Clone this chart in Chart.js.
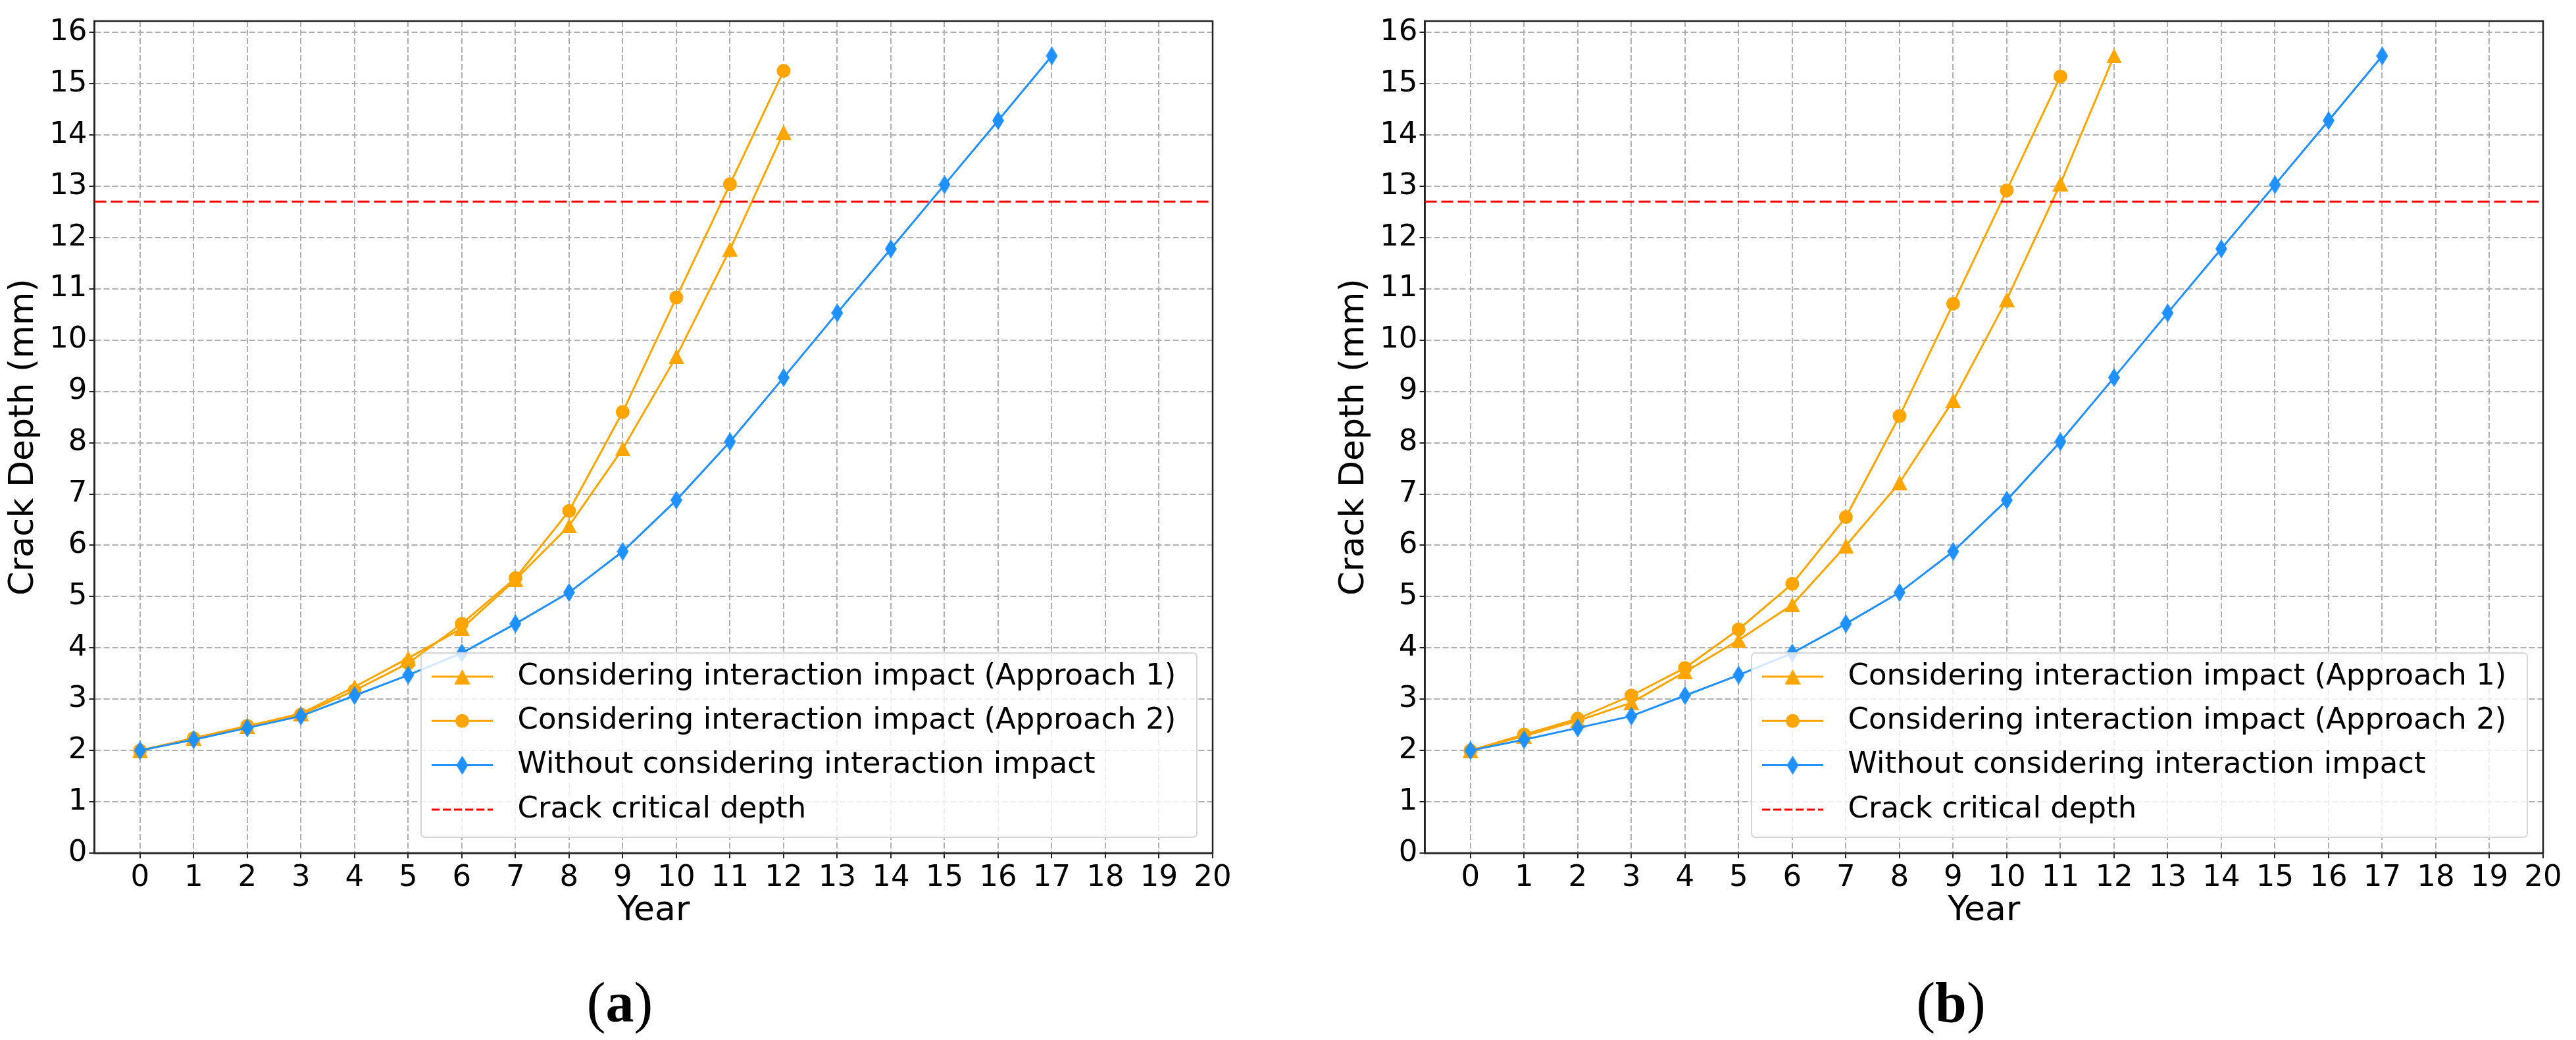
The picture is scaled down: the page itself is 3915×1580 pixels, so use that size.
<!DOCTYPE html>
<html>
<head>
<meta charset="utf-8">
<script src="https://cdn.jsdelivr.net/npm/chart.js@4.4.1/dist/chart.umd.min.js"></script>
<style>
  html, body { margin: 0; padding: 0; background: #fff; }
  body { width: 3915px; height: 1580px; position: relative; overflow: hidden; }
  .panel { position: absolute; top: 0; width: 1890px; height: 1460px; }
  .tag { position: absolute; top: 1473px; width: 200px; text-align: center;
         font-family: "Liberation Serif", serif; font-size: 86px; line-height: 100px; color: #000; }
</style>
</head>
<body>
<div class="panel" style="left:0"><canvas id="chartA"></canvas></div>
<div class="panel" style="left:2021.5px"><canvas id="chartB"></canvas></div>
<div class="tag" style="left:842px">(<b>a</b>)</div>
<div class="tag" style="left:2865px">(<b>b</b>)</div>
<script>
// years on the x axis
const years = [0, 1, 2, 3, 4, 5, 6, 7, 8, 9, 10, 11, 12, 13, 14, 15, 16, 17];
const xTicks = [0, 1, 2, 3, 4, 5, 6, 7, 8, 9, 10, 11, 12, 13, 14, 15, 16, 17, 18, 19, 20];
const yTicks = [0, 1, 2, 3, 4, 5, 6, 7, 8, 9, 10, 11, 12, 13, 14, 15, 16];
const xMin = -0.85, xMax = 20;
const yMin = 0, yMax = 16.22;
const criticalDepth = 12.7;

// panel (a)
const approach1A = [2.0, 2.24, 2.47, 2.72, 3.24, 3.80, 4.38, 5.33, 6.38, 7.88, 9.68, 11.77, 14.05];
const approach2A = [2.0, 2.24, 2.48, 2.70, 3.17, 3.70, 4.47, 5.36, 6.67, 8.60, 10.83, 13.04, 15.25];
// panel (b)
const approach1B = [2.0, 2.28, 2.58, 2.93, 3.53, 4.15, 4.84, 5.99, 7.22, 8.82, 10.79, 13.05, 15.54];
const approach2B = [2.0, 2.31, 2.62, 3.07, 3.61, 4.36, 5.25, 6.55, 8.52, 10.71, 12.92, 15.14];
// same in both panels
const withoutInteraction = [2.0, 2.21, 2.44, 2.67, 3.07, 3.47, 3.90, 4.47, 5.08, 5.88, 6.88, 8.02, 9.27, 10.53, 11.78, 13.03, 14.28, 15.54];

const labels = [
  "Considering interaction impact (Approach 1)",
  "Considering interaction impact (Approach 2)",
  "Without considering interaction impact",
  "Crack critical depth"
];

const FONT = "DejaVu Sans";
const ORANGE = "orange";
const BLUE = "dodgerblue";

function shape(kind, w, h, color) {
  const c = document.createElement("canvas");
  c.width = w; c.height = h;
  const g = c.getContext("2d");
  g.fillStyle = color;
  g.beginPath();
  if (kind === "diamond") {
    g.moveTo(w / 2, 0); g.lineTo(w, h / 2); g.lineTo(w / 2, h); g.lineTo(0, h / 2);
  } else {
    g.moveTo(w / 2, 0); g.lineTo(w, h); g.lineTo(0, h);
  }
  g.closePath();
  g.fill();
  return c;
}
const triMark = shape("triangle", 24, 23, ORANGE);
const dMark = shape("diamond", 18, 29, BLUE);

function pts(vals) {
  return vals.map((v, i) => ({ x: years[i], y: v }));
}

function drawMarker(ctx, style, r, x, y, color) {
  if (r === 0) return;
  if (typeof style === "object") {
    ctx.drawImage(style, x - style.width / 2, y - style.height / 2);
    return;
  }
  ctx.fillStyle = color;
  ctx.beginPath();
  ctx.arc(x, y, r, 0, Math.PI * 2);
  ctx.fill();
}

// matplotlib style legend, lower right inside the axes
const boxLegend = {
  id: "boxLegend",
  afterDatasetsDraw(chart) {
    const { ctx, chartArea: a } = chart;
    const w = 1179, h = 280, pad = 24;
    const x0 = a.right - pad - w, y0 = a.bottom - pad - h;
    ctx.save();
    ctx.beginPath();
    ctx.roundRect(x0, y0, w, h, 6);
    ctx.fillStyle = "rgba(255,255,255,0.8)";
    ctx.fill();
    ctx.strokeStyle = "#d6d6d6";
    ctx.lineWidth = 2;
    ctx.stroke();
    chart.data.datasets.forEach((ds, i) => {
      const cy = y0 + 36 + i * 67.3;
      ctx.save();
      ctx.strokeStyle = ds.borderColor;
      ctx.lineWidth = ds.borderWidth;
      ctx.setLineDash((ds.borderDash || []).map(d => d * 0.68));
      ctx.beginPath();
      ctx.moveTo(x0 + 16, cy);
      ctx.lineTo(x0 + 109, cy);
      ctx.stroke();
      ctx.restore();
      drawMarker(ctx, ds.pointStyle, ds.pointRadius, x0 + 62.5, cy, ds.pointBackgroundColor);
      ctx.fillStyle = "#000";
      ctx.font = "45px '" + FONT + "'";
      ctx.textBaseline = "middle";
      ctx.textAlign = "left";
      ctx.fillText(ds.label, x0 + 146.6, cy);
    });
    ctx.restore();
  }
};

const frame = {
  id: "frame",
  beforeDatasetsDraw(chart) {
    const { ctx, chartArea: a } = chart;
    ctx.save();
    ctx.strokeStyle = "#222";
    ctx.lineWidth = 2.5;
    ctx.strokeRect(a.left, a.top, a.right - a.left, a.bottom - a.top);
    ctx.restore();
  }
};

function axis(extra) {
  return Object.assign({
    type: "linear",
    ticks: { autoSkip: false, maxRotation: 0, color: "#000", font: { family: FONT, size: 45 } },
    grid: { color: "#b0b0b0", lineWidth: 2, tickColor: "#222", tickLength: 8, tickWidth: 2, tickBorderDash: [] },
    border: { display: true, color: "#222", width: 2.5, dash: [9, 4] }
  }, extra);
}

function makeChart(id, a1, a2) {
  return new Chart(document.getElementById(id), {
    type: "line",
    data: {
      datasets: [
        { label: labels[0], data: pts(a1), borderColor: ORANGE, backgroundColor: ORANGE,
          pointBackgroundColor: ORANGE, pointStyle: triMark, pointRadius: 12, pointBorderWidth: 0,
          borderWidth: 3, order: 4 },
        { label: labels[1], data: pts(a2), borderColor: ORANGE, backgroundColor: ORANGE,
          pointBackgroundColor: ORANGE, pointStyle: "circle", pointRadius: 10.5, pointBorderWidth: 0,
          borderWidth: 3, order: 3 },
        { label: labels[2], data: pts(withoutInteraction), borderColor: BLUE, backgroundColor: BLUE,
          pointBackgroundColor: BLUE, pointStyle: dMark, pointRadius: 12, pointBorderWidth: 0,
          borderWidth: 3, order: 2 },
        { label: labels[3], data: [{ x: xMin, y: criticalDepth }, { x: xMax, y: criticalDepth }],
          borderColor: "red", borderDash: [18, 7], borderWidth: 3, pointRadius: 0, order: 1 }
      ]
    },
    options: {
      responsive: true,
      maintainAspectRatio: false,
      animation: false,
      events: [],
      layout: { padding: { left: 0, top: 32, right: 47, bottom: 0 } },
      elements: { line: { tension: 0, fill: false } },
      scales: {
        x: axis({
          min: xMin, max: xMax,
          afterBuildTicks: s => { s.ticks = xTicks.map(v => ({ value: v })); },
          afterFit: s => { s.height = 164; },
          title: { display: true, text: "Year", color: "#000", font: { family: FONT, size: 52 },
                   padding: { top: 0, bottom: 44 } }
        }),
        y: axis({
          min: yMin, max: yMax,
          afterBuildTicks: s => { s.ticks = yTicks.map(v => ({ value: v })); },
          afterFit: s => { s.width = 143.5; },
          title: { display: true, text: "Crack Depth (mm)", color: "#000", font: { family: FONT, size: 52 },
                   padding: { top: 5, bottom: 0 } }
        })
      },
      plugins: { legend: { display: false }, tooltip: { enabled: false } }
    },
    plugins: [frame, boxLegend]
  });
}

makeChart("chartA", approach1A, approach2A);
makeChart("chartB", approach1B, approach2B);
</script>
</body>
</html>
